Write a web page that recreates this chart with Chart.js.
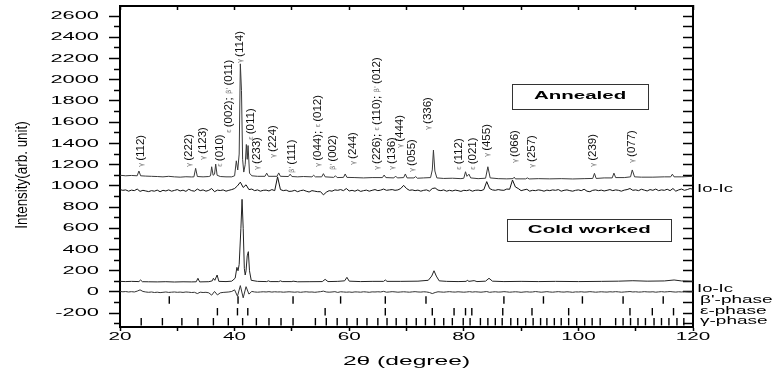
<!DOCTYPE html>
<html>
<head>
<meta charset="utf-8">
<title>XRD patterns - annealed / cold worked</title>
<script src="https://cdn.jsdelivr.net/npm/chart.js@4.4.1/dist/chart.umd.min.js"></script>
<style>
    html, body { margin: 0; padding: 0; background: #fff; }
    canvas { display: block; }
</style>
</head>
<body>
<canvas id="xrdChart" width="774" height="373"></canvas>
<script>
// ---- axis ticks ----
const xMajorTicks = [20, 40, 60, 80, 100, 120];
const xMinorTicks = [30, 50, 70, 90, 110];
const yMajorTicks = [-200, 0, 200, 400, 600, 800, 1000, 1200, 1400, 1600, 1800, 2000, 2200, 2400, 2600];
const yMinorTicks = [-300, -100, 100, 300, 500, 700, 900, 1100, 1300, 1500, 1700, 1900, 2100, 2300, 2500];

// ---- annealed pattern (2theta, intensity) ----
const annealedTheta = [
    20, 21, 22, 23.0, 23.3, 23.6, 24.5, 25.5, 26.5, 27.5,
    28.5, 29.5, 30.5, 31.5, 32.5, 32.9, 33.2, 33.5, 34.5, 35.5,
    35.8, 36.0, 36.25, 36.5, 36.7, 36.95, 37.5, 38.5, 39.5, 40.0,
    40.3, 40.55, 40.8, 41.0, 41.2, 41.4, 41.6, 41.85, 42.05, 42.2,
    42.35, 42.6, 43.0, 44.0, 45.3, 45.6, 45.9, 47.4, 47.7, 48.0,
    49.4, 49.7, 50.0, 51, 52, 53.5, 53.8, 54.1, 55.2, 55.5,
    55.8, 57.3, 57.6, 57.9, 59.0, 59.3, 59.6, 61, 62.5, 64,
    65.8, 66.1, 66.4, 67.8, 68.1, 68.4, 69.5, 69.8, 70.1, 71.3,
    71.6, 71.9, 73, 74.2, 74.5, 74.7, 74.95, 75.3, 76.5, 78,
    79.5, 80.0, 80.3, 80.55, 80.9, 81.2, 82.5, 83.8, 84.2, 84.6,
    86, 87.5, 88.6, 88.8, 89.0, 90.8, 91.1, 91.4, 93, 95,
    97, 99, 101, 102.5, 102.8, 103.1, 104.5, 105.9, 106.2, 106.5,
    108, 109.1, 109.4, 109.8, 111, 113, 115, 116.1, 116.4, 116.7,
    118, 120
];
const annealedCounts = [
    1100, 1095, 1098, 1095, 1140, 1095, 1092, 1090, 1088, 1085,
    1090, 1085, 1082, 1086, 1084, 1085, 1165, 1088, 1085, 1088,
    1095, 1180, 1100, 1110, 1205, 1100, 1088, 1085, 1085, 1095,
    1236, 1150, 1300, 2150, 1900, 1250, 1130, 1200, 1390, 1250,
    1380, 1120, 1095, 1090, 1090, 1120, 1090, 1090, 1122, 1090,
    1088, 1110, 1088, 1085, 1088, 1085, 1100, 1085, 1085, 1115,
    1085, 1080, 1095, 1078, 1080, 1112, 1080, 1078, 1075, 1078,
    1078, 1102, 1078, 1075, 1092, 1075, 1078, 1112, 1075, 1075,
    1088, 1072, 1075, 1078, 1150, 1337, 1140, 1075, 1070, 1072,
    1068, 1072, 1133, 1090, 1110, 1075, 1068, 1072, 1180, 1075,
    1068, 1066, 1068, 1082, 1066, 1066, 1075, 1065, 1068, 1066,
    1068, 1065, 1068, 1070, 1118, 1070, 1075, 1075, 1120, 1078,
    1078, 1085, 1150, 1085, 1082, 1082, 1085, 1085, 1110, 1085,
    1085, 1090
];

// ---- cold worked pattern (2theta, intensity) ----
const coldTheta = [
    20, 21, 22, 23.3, 23.6, 23.9, 25, 26.5, 28, 29.5,
    31, 32.5, 33.3, 33.6, 33.9, 35.5, 36.1, 36.3, 36.55, 36.95,
    37.25, 38.5, 39.5, 40.1, 40.4, 40.6, 40.8, 41.1, 41.3, 41.5,
    41.7, 41.85, 42.0, 42.2, 42.4, 42.6, 42.9, 44, 45.6, 45.9,
    46.2, 47.7, 48.0, 48.3, 50.0, 50.2, 51, 53, 55.3, 55.8,
    56.3, 58, 59.2, 59.6, 60.0, 62, 64, 66.0, 66.3, 66.6,
    69, 72, 73.8, 74.4, 74.8, 75.2, 75.7, 77, 79, 80.4,
    80.6, 80.9, 81.8, 82.3, 83.8, 84.4, 85.0, 87, 90, 93,
    96, 100, 104, 107, 109.5, 112, 115, 116.7, 118, 120
];
const coldCounts = [
    100, 98, 100, 98, 113, 97, 96, 95, 97, 94,
    96, 95, 96, 129, 95, 97, 105, 129, 110, 160,
    100, 98, 102, 130, 232, 200, 260, 600, 873, 600,
    220, 160, 200, 340, 380, 200, 110, 100, 98, 105,
    98, 98, 105, 98, 98, 102, 96, 97, 98, 119,
    98, 100, 105, 138, 102, 98, 100, 100, 113, 100,
    100, 102, 110, 150, 200, 150, 105, 100, 98, 100,
    110, 100, 107, 98, 102, 129, 102, 98, 100, 98,
    100, 98, 100, 102, 106, 102, 104, 113, 104, 100
];

// ---- difference curves Io-Ic, sampled from 20 to 120 every 0.5 deg ----
const diffStart = 20;
const diffStep = 0.5;
const annealedDiff = [
    965, 958, 962, 950, 960, 955, 970, 948, 958, 952,      // 20
    946, 955, 950, 960, 945, 958, 952, 962, 950, 957,      // 25
    965, 952, 960, 948, 968, 955, 950, 970, 955, 962,      // 30
    950, 958, 975, 945, 960, 956, 962, 950, 958, 965,      // 35
    975, 1000, 1035, 985, 1010, 965, 970, 955, 962, 950,   // 40
    958, 960, 952, 965, 955, 1085, 965, 955, 960, 948,     // 45
    950, 958, 945, 955, 960, 950, 942, 955, 950, 945,      // 50
    945, 915, 940, 955, 950, 962, 958, 965, 955, 975,      // 55
    952, 958, 950, 962, 948, 955, 960, 950, 958, 965,      // 60
    955, 960, 970, 958, 962, 965, 958, 962, 975, 1005,     // 65
    975, 958, 962, 955, 960, 950, 958, 962, 950, 975,      // 70
    980, 960, 955, 962, 950, 958, 952, 960, 955, 948,      // 75
    958, 955, 962, 950, 958, 960, 955, 965, 1040, 975,     // 80
    962, 958, 965, 960, 958, 970, 968, 1055, 990, 975,     // 85
    955, 962, 968, 950, 958, 955, 962, 958, 950, 960,      // 90
    955, 962, 958, 965, 950, 958, 962, 955, 950, 958,      // 95
    962, 955, 968, 950, 945, 958, 962, 955, 960, 952,      // 100
    958, 965, 955, 962, 958, 950, 960, 965, 975, 958,      // 105
    962, 955, 968, 960, 952, 965, 958, 970, 955, 962,      // 110
    958, 968, 955, 975, 950, 962, 970, 958, 965, 975,      // 115
    968                                                    // 120
];
const coldDiff = [
    5, 2, 4, 0, 3, 0, 8, 20, 5, 0,             // 20
    -3, 0, -5, -2, -6, -3, 0, -4, -2, 0,       // 25
    -3, -1, -4, 0, -2, -5, -3, -15, -2, -5,    // 30
    -3, -8, -30, 5, -28, -8, -4, -2, 0, 5,     // 35
    20, -40, 60, -55, 50, -20, 5, 0, -2, 0,    // 40
    2, 0, 3, -1, 2, 0, 1, -2, 0, 2,            // 45
    0, -2, 1, -3, 0, 2, -1, 0, -3, 0,          // 50
    3, 8, 0, -2, 0, 3, -4, 2, 0, -2,           // 55
    0, -3, 1, 0, -2, 2, 0, -3, 1, 0,           // 60
    2, 0, 6, -2, 0, 3, 1, -2, 0, 2,            // 65
    0, -2, 1, 3, 0, -1, 2, 0, -5, -15,         // 70
    -5, 2, 0, -2, 1, 3, 0, -1, 2, 0,           // 75
    -2, 0, 3, -1, 2, 0, -2, 1, 4, -3,          // 80
    0, 2, -1, 0, 3, 1, -2, 0, 2, 0,            // 85
    -3, 0, 2, -1, 0, 4, 1, -2, 0, 3,           // 90
    0, -2, 1, 3, 0, -1, 2, 0, -3, 1,           // 95
    0, 2, -1, 0, 3, 1, -2, 0, 2, 0,            // 100
    -1, 2, 0, 3, 1, -2, 0, 2, 4, 0,            // 105
    2, -1, 0, 3, 1, 0, 2, -2, 1, 3,            // 110
    0, 2, 4, 1, -1, 2, 0, 3, 1, 0,             // 115
    2                                          // 120
];

// ---- Bragg reflection markers per phase (2theta) ----
const betaPrimePeaks = [28.6, 40.6, 50.2, 58.5, 66.3, 73.4, 87.0, 93.9, 100.7, 107.8, 114.8];
const epsilonPeaks = [37.0, 40.5, 42.3, 55.8, 66.3, 74.5, 78.3, 80.3, 81.4, 86.8, 91.9, 98.3, 109.0, 112.9, 116.6];
const gammaPeaks = [
    23.7, 27.4, 30.8, 33.6, 36.3, 38.9, 41.4, 43.8, 46.0, 48.1, 50.2, 54.1, 56.0, 57.9,
    59.6, 61.4, 63.1, 65.0, 66.6, 68.2, 70.0, 71.7, 73.3, 74.9, 76.5, 78.0, 79.9, 81.1,
    82.9, 84.2, 85.5, 86.7, 88.2, 89.4, 90.8, 92.1, 93.4, 94.5, 95.8, 97.0, 98.3, 99.7,
    101.1, 102.4, 103.8, 106.5, 107.8, 109.1, 110.4, 111.7, 113.2, 114.5, 115.8, 117.2, 118.4
];
const phaseNames = ["β'-phase", 'ε-phase', 'γ-phase'];
const phaseRowLevel = [-75, -186, -280];

// ---- peak indexing labels ----
const peakLabelText = [
    'γ (112)', 'γ (222)', 'γ (123)', 'ε (010)', "ε (002); β' (011)", 'γ (114)', 'ε (011)',
    'γ (233)', 'γ (224)', "β' (111)", 'γ (044); ε (012)', "β' (002)", 'γ (244)',
    "γ (226); ε (110); β' (012)", 'γ (136)', 'γ (444)', 'γ (055)', 'γ (336)',
    'ε (112)', 'ε (021)', 'γ (455)', 'γ (066)', 'γ (257)', 'γ (239)', 'γ (077)'
];
const peakLabelTheta = [
    23.7, 32.0, 34.5, 37.5, 39.0, 40.9, 42.9,
    43.9, 46.7, 50.0, 54.6, 57.2, 60.7,
    64.9, 67.5, 68.9, 71.0, 73.8,
    79.2, 81.6, 84.0, 88.9, 91.9, 102.5, 109.4
];
const peakLabelBase = [
    1178, 1178, 1243, 1178, 1498, 2157, 1432,
    1149, 1262, 1121, 1178, 1149, 1196,
    1149, 1149, 1357, 1130, 1526,
    1149, 1149, 1272, 1215, 1168, 1178, 1215
];

const FONT = '"Liberation Sans", Arial, sans-serif';

const toPoints = (xs, ys) => xs.map((x, i) => ({ x: x, y: ys[i] }));
const diffPoints = (vals) => vals.map((v, i) => ({ x: diffStart + i * diffStep, y: v }));
const tickObjs = (arr) => arr.map(v => ({ value: v }));

// text drawn with a horizontal stretch, like the original figure
function stretchText(ctx, text, x, y, font, sx, align, color) {
    ctx.save();
    ctx.font = font;
    ctx.fillStyle = color || '#000';
    ctx.textBaseline = 'middle';
    ctx.textAlign = 'left';
    const w = ctx.measureText(text).width * sx;
    let left = x;
    if (align === 'right') left = x - w;
    else if (align === 'center') left = x - w / 2;
    ctx.translate(left, y);
    ctx.scale(sx, 1);
    ctx.fillText(text, 0, 0);
    ctx.restore();
    return w;
}

function drawPeakLabel(ctx, x, y, text) {
    const hklFont = '11.5px ' + FONT;
    const phaseFont = '7px "DejaVu Sans", sans-serif';
    ctx.save();
    ctx.translate(x, y);
    ctx.rotate(-Math.PI / 2);
    ctx.textBaseline = 'middle';
    ctx.textAlign = 'left';
    let pos = 0;
    text.split('; ').forEach((part, i) => {
        const sp = part.indexOf(' ');
        const phase = part.slice(0, sp);
        const hkl = part.slice(sp + 1);
        if (i > 0) {
            ctx.font = hklFont;
            ctx.fillStyle = '#111';
            ctx.fillText(';', pos, 0);
            pos += ctx.measureText('; ').width;
        }
        ctx.font = phaseFont;
        ctx.fillStyle = '#777';
        ctx.fillText(phase, pos, 0);
        pos += ctx.measureText(phase).width + 2;
        ctx.font = hklFont;
        ctx.fillStyle = '#111';
        ctx.fillText(hkl, pos, 0);
        pos += ctx.measureText(hkl).width;
    });
    ctx.restore();
}

function drawBoxedTitle(ctx, text, cx, cy, boxW, boxH) {
    ctx.save();
    ctx.strokeStyle = '#333';
    ctx.lineWidth = 1;
    ctx.strokeRect(Math.round(cx - boxW / 2) + 0.5, Math.round(cy - boxH / 2) + 0.5, boxW, boxH);
    ctx.restore();
    stretchText(ctx, text, cx, cy, 'bold 10.5px ' + FONT, 1.95, 'center');
}

const xrdText = {
    id: 'xrdText',
    afterDraw(chart) {
        const ctx = chart.ctx;
        const xs = chart.scales.x;
        const ys = chart.scales.y;
        const area = chart.chartArea;

        // tick labels
        yMajorTicks.forEach(v => {
            stretchText(ctx, String(v), area.left - 21, ys.getPixelForValue(v), '11.5px ' + FONT, 1.9, 'right');
        });
        xMajorTicks.forEach(v => {
            stretchText(ctx, String(v), xs.getPixelForValue(v), area.bottom + 10, '11.5px ' + FONT, 1.8, 'center');
        });

        // axis titles
        stretchText(ctx, '2θ (degree)', (area.left + area.right) / 2, area.bottom + 35, '12px ' + FONT, 2.05, 'center');
        ctx.save();
        ctx.translate(23, 175);
        ctx.rotate(-Math.PI / 2);
        ctx.scale(0.84, 1);
        ctx.font = '16px ' + FONT;
        ctx.fillStyle = '#000';
        ctx.textAlign = 'center';
        ctx.textBaseline = 'middle';
        ctx.fillText('Intensity(arb. unit)', 0, 0);
        ctx.restore();

        // peak indexing
        peakLabelText.forEach((t, i) => {
            drawPeakLabel(ctx, xs.getPixelForValue(peakLabelTheta[i]), ys.getPixelForValue(peakLabelBase[i]), t);
        });

        // sample boxes
        drawBoxedTitle(ctx, 'Annealed', xs.getPixelForValue(100.3), ys.getPixelForValue(1842), 136, 25);
        drawBoxedTitle(ctx, 'Cold worked', xs.getPixelForValue(101.9), ys.getPixelForValue(584), 164, 22);

        // right-hand legends
        const rx = area.right + 4;
        stretchText(ctx, 'Io-Ic', rx, ys.getPixelForValue(970), '10px ' + FONT, 1.85, 'left');
        stretchText(ctx, 'Io-Ic', rx, ys.getPixelForValue(25), '10px ' + FONT, 1.85, 'left');
        phaseNames.forEach((name, i) => {
            stretchText(ctx, name, rx + 3, ys.getPixelForValue(phaseRowLevel[i]), '10px ' + FONT, 1.9, 'left');
        });
    }
};

const traceStyle = (color) => ({
    showLine: true,
    borderColor: color,
    borderWidth: 1,
    pointRadius: 0,
    tension: 0
});

const markerStyle = {
    showLine: false,
    pointStyle: 'line',
    pointRotation: 90,
    pointRadius: 3.7,
    pointBorderWidth: 1.4,
    pointBorderColor: '#000',
    pointBackgroundColor: '#000'
};

const hiddenLabels = { display: false };
const sameRangeX = { type: 'linear', min: 20, max: 120 };
const sameRangeY = { type: 'linear', min: -330, max: 2695 };

new Chart(document.getElementById('xrdChart'), {
    type: 'scatter',
    data: {
        datasets: [
            { label: 'Annealed', data: toPoints(annealedTheta, annealedCounts), ...traceStyle('#3a3a3a') },
            { label: 'Annealed Io-Ic', data: diffPoints(annealedDiff), ...traceStyle('#111') },
            { label: 'Cold worked', data: toPoints(coldTheta, coldCounts), ...traceStyle('#222') },
            { label: 'Cold worked Io-Ic', data: diffPoints(coldDiff), ...traceStyle('#333') },
            { label: phaseNames[0], data: betaPrimePeaks.map(x => ({ x: x, y: phaseRowLevel[0] })), ...markerStyle },
            { label: phaseNames[1], data: epsilonPeaks.map(x => ({ x: x, y: phaseRowLevel[1] })), ...markerStyle },
            { label: phaseNames[2], data: gammaPeaks.map(x => ({ x: x, y: phaseRowLevel[2] })), ...markerStyle }
        ]
    },
    options: {
        responsive: false,
        animation: false,
        events: [],
        layout: { padding: { left: 120, right: 81, top: 6, bottom: 46 } },
        plugins: { legend: { display: false }, tooltip: { enabled: false } },
        scales: {
            x: {
                ...sameRangeX,
                position: 'bottom',
                afterBuildTicks: (a) => { a.ticks = tickObjs(xMajorTicks.concat(xMinorTicks)); },
                afterFit: (s) => { s.height = 0; },
                ticks: hiddenLabels,
                grid: { drawOnChartArea: false, tickLength: 4, tickColor: '#000', tickWidth: 1.5 },
                border: { color: '#000', width: 2 }
            },
            xTop: {
                ...sameRangeX,
                position: 'top',
                afterBuildTicks: (a) => { a.ticks = tickObjs(xMajorTicks.concat(xMinorTicks)); },
                afterFit: (s) => { s.height = 0; },
                ticks: hiddenLabels,
                grid: { drawOnChartArea: false, tickLength: -4, tickColor: '#000', tickWidth: 1.5 },
                border: { color: '#000', width: 2 }
            },
            y: {
                ...sameRangeY,
                position: 'left',
                afterBuildTicks: (a) => { a.ticks = tickObjs(yMinorTicks); },
                afterFit: (s) => { s.width = 0; },
                ticks: hiddenLabels,
                grid: { drawOnChartArea: false, tickLength: 6, tickColor: '#000', tickWidth: 1.5 },
                border: { color: '#000', width: 2 }
            },
            yMajor: {
                ...sameRangeY,
                position: 'left',
                afterBuildTicks: (a) => { a.ticks = tickObjs(yMajorTicks); },
                afterFit: (s) => { s.width = 0; },
                ticks: hiddenLabels,
                grid: { drawOnChartArea: false, tickLength: 11, tickColor: '#000', tickWidth: 1.5 },
                border: { display: false }
            },
            yRight: {
                ...sameRangeY,
                position: 'right',
                afterBuildTicks: (a) => { a.ticks = tickObjs(yMajorTicks.concat(yMinorTicks)); },
                afterFit: (s) => { s.width = 0; },
                ticks: hiddenLabels,
                grid: { drawOnChartArea: false, tickLength: -10, tickColor: '#000', tickWidth: 1.5 },
                border: { color: '#000', width: 2 }
            }
        }
    },
    plugins: [xrdText]
});
</script>
</body>
</html>
